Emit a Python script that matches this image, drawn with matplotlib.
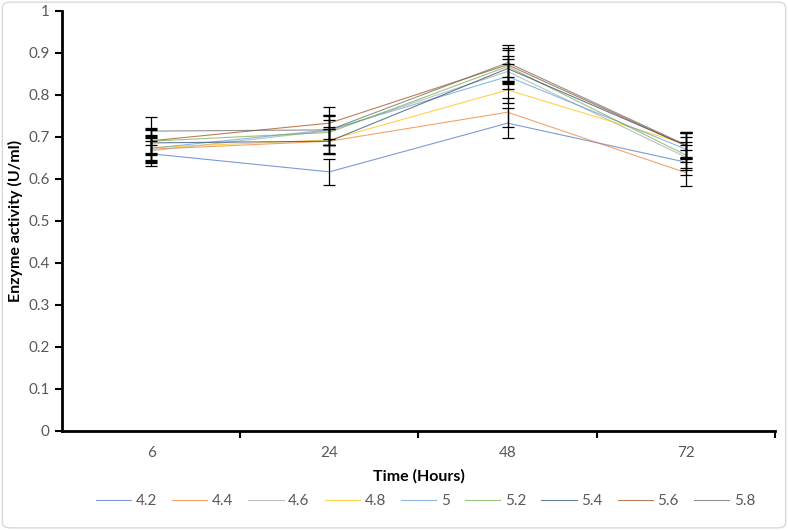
import matplotlib
matplotlib.use("Agg")
import matplotlib.pyplot as plt
from matplotlib.patches import FancyBboxPatch
import numpy as np

categories = ["6", "24", "48", "72"]
series_names = ["4.2", "4.4", "4.6", "4.8", "5", "5.2", "5.4", "5.6", "5.8"]

s_42 = [0.660, 0.617, 0.733, 0.640]
s_44 = [0.671, 0.690, 0.759, 0.615]
s_46 = [0.667, 0.715, 0.856, 0.652]
s_48 = [0.675, 0.693, 0.812, 0.683]
s_50 = [0.673, 0.717, 0.844, 0.671]
s_52 = [0.690, 0.711, 0.868, 0.657]
s_54 = [0.686, 0.690, 0.863, 0.680]
s_56 = [0.691, 0.733, 0.872, 0.679]
s_58 = [0.714, 0.717, 0.877, 0.681]

e_42 = [0.030, 0.031, 0.035, 0.030]
e_44 = [0.030, 0.030, 0.035, 0.032]
e_46 = [0.030, 0.035, 0.030, 0.030]
e_48 = [0.030, 0.030, 0.030, 0.030]
e_50 = [0.030, 0.035, 0.030, 0.030]
e_52 = [0.030, 0.030, 0.040, 0.030]
e_54 = [0.030, 0.030, 0.030, 0.030]
e_56 = [0.030, 0.038, 0.040, 0.030]
e_58 = [0.033, 0.035, 0.043, 0.030]

values = [s_42, s_44, s_46, s_48, s_50, s_52, s_54, s_56, s_58]
errors = [e_42, e_44, e_46, e_48, e_50, e_52, e_54, e_56, e_58]
colors = ["#4472C4", "#ED7D31", "#A5A5A5", "#FFC000", "#5B9BD5",
          "#70AD47", "#264478", "#9E480E", "#636363"]

plt.rcParams['font.family'] = ['Lato', 'DejaVu Sans']

fig = plt.figure(figsize=(7.88, 5.30), dpi=100)
ax = fig.add_axes([62/788, 1-431/530, (775-62)/788, (431-11)/530])

x = np.arange(len(categories))
for name, v, e, c in zip(series_names, values, errors, colors):
    ax.plot(x, v, color=c, lw=0.8, alpha=0.7, label=name, zorder=2)
    ax.errorbar(x, v, yerr=e, fmt='none', ecolor='black', elinewidth=0.9,
                capsize=4, capthick=0.9, zorder=3)

ax.set_xlim(-0.5, len(categories) - 0.5)
ax.set_ylim(0, 1)
ax.set_yticks(np.arange(0, 1.01, 0.1))
ax.set_yticklabels(["0", "0.1", "0.2", "0.3", "0.4", "0.5", "0.6", "0.7", "0.8", "0.9", "1"])
ax.set_xticks(x + 0.5)
ax.set_xticklabels([])
ax.set_xticks(x, minor=True)
ax.set_xticklabels(categories, minor=True)
ax.tick_params(axis='x', which='minor', length=0, pad=11, labelsize=11, labelcolor='#595959')
ax.tick_params(axis='x', which='major', length=5, width=1.5, direction='out')
ax.tick_params(axis='y', length=5, width=1.5, direction='out', labelsize=11,
               labelcolor='#595959', pad=4)

for s in ['top', 'right']:
    ax.spines[s].set_visible(False)
for s in ['left', 'bottom']:
    ax.spines[s].set_linewidth(2)
    ax.spines[s].set_color('black')

ax.set_xlabel("Time (Hours)", fontsize=11.5, fontweight='bold', labelpad=6)
ax.set_ylabel("Enzyme activity (U/ml)", fontsize=11.5, fontweight='bold', labelpad=4)

handles, labels = ax.get_legend_handles_labels()
leg = fig.legend(handles, labels, loc='center', bbox_to_anchor=(0.54, 1-501/530),
                 ncol=9, frameon=False, fontsize=11, handlelength=2.3,
                 columnspacing=1.0, handletextpad=0.3)
for t in leg.get_texts():
    t.set_color('#595959')

border = FancyBboxPatch((0.003, 0.004), 0.994, 0.992, boxstyle="round,pad=0,rounding_size=0.01",
                        transform=fig.transFigure, fill=False, edgecolor='#D9D9D9', lw=1)
fig.patches.append(border)

fig.savefig("out.png", dpi=100)
